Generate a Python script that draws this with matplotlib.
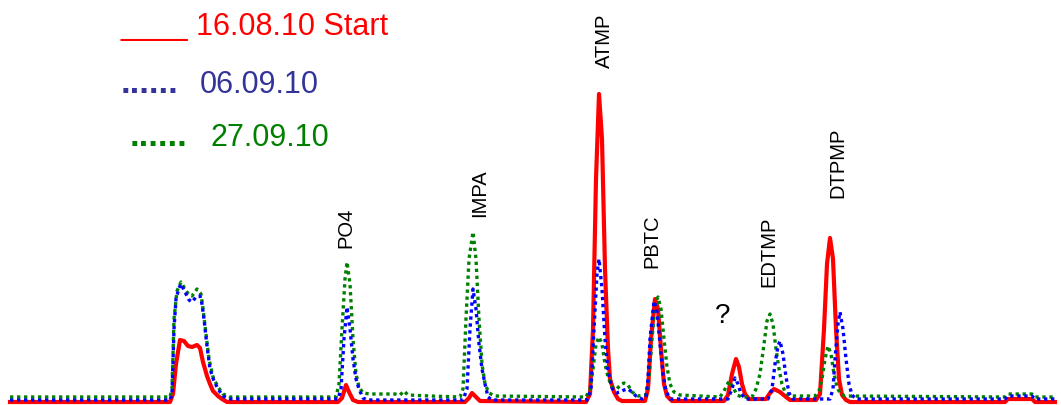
#!/usr/bin/python
# -*- coding: utf-8 -*-

'''
Chromatogram of phosphonates, three samples overlaid (16.08 / 06.09 / 27.09)
'''

import matplotlib
matplotlib.use('Agg')
import matplotlib.pyplot as plt

# Retention axis (arbitrary units) and detector signal (arbitrary units)
redTime = [10, 170, 173, 176, 180, 184, 188, 192, 197, 200, 203, 207, 210, 213, 218, 222, 227,
           338, 342, 346, 349, 353, 358, 465, 469, 472, 476, 480,
           586, 590, 593, 596, 599, 602, 605, 608, 610, 614, 618, 622,
           645, 648, 651, 655, 658, 661, 664, 667, 672,
           724, 728, 732, 736, 739, 742, 745, 749, 766, 770, 774, 780, 786, 790,
           816, 820, 824, 827, 830, 833, 836, 839, 842, 846, 850,
           1005, 1008, 1032, 1035, 1055]
redSignal = [3, 3, 11, 41, 65, 64, 59, 58, 60, 57, 43, 29, 21, 14, 9, 6, 3,
             3, 7, 20, 13, 5, 3, 3, 7, 12, 8, 4,
             3, 11, 76, 226, 311, 266, 136, 56, 26, 13, 6, 4,
             4, 16, 66, 106, 96, 56, 21, 9, 4,
             4, 10, 31, 46, 38, 21, 11, 6, 6, 12, 16, 13, 8, 5,
             5, 11, 76, 141, 167, 146, 76, 26, 10, 5, 3,
             3, 6, 6, 3, 3]

blueTime = [10, 170, 172, 174, 176, 179, 181, 185, 189, 192, 196, 200, 202, 204, 207, 210, 214, 218, 223, 230,
            338, 341, 344, 347, 350, 353, 356, 359, 363, 367,
            463, 467, 470, 473, 476, 479, 482, 485, 488, 492,
            587, 591, 594, 597, 599, 602, 605, 608, 612, 616, 620, 624, 628, 632, 636, 642,
            646, 648, 650, 654, 657, 660, 663, 666, 670,
            728, 732, 735, 738, 741, 746, 768, 772, 775, 778, 780, 783, 786, 789, 793,
            830, 833, 835, 838, 840, 843, 846, 849, 852, 856,
            1005, 1008, 1032, 1035, 1055]
blueSignal = [5, 5, 11, 76, 106, 117, 121, 113, 105, 103, 108, 109, 101, 86, 59, 36, 24, 16, 9, 6,
              6, 16, 66, 98, 76, 46, 26, 16, 7, 5,
              5, 16, 76, 116, 96, 61, 36, 21, 8, 5,
              5, 16, 76, 131, 146, 116, 66, 34, 17, 12, 13, 15, 16, 13, 9, 6,
              8, 26, 66, 104, 94, 61, 31, 14, 6,
              6, 16, 27, 21, 11, 6, 6, 16, 41, 59, 64, 51, 28, 12, 6,
              6, 16, 46, 81, 93, 76, 46, 21, 10, 6,
              6, 9, 9, 6, 6]

greenTime = [10, 170, 172, 174, 177, 181, 185, 189, 192, 197, 201, 203, 206, 209, 213, 218, 223, 230,
             336, 339, 342, 345, 347, 350, 353, 356, 359, 363, 370, 395, 400, 404, 408, 430,
             460, 463, 466, 469, 473, 476, 479, 482, 485, 489, 495,
             586, 590, 593, 596, 599, 602, 605, 608, 612, 617, 620, 624, 628, 632, 638,
             646, 649, 652, 655, 658, 661, 664, 667, 670, 674, 680, 700,
             720, 724, 729, 733, 737, 742, 752, 756, 760, 764, 767, 770, 773, 776, 779, 782, 785, 790,
             815, 819, 822, 825, 828, 831, 834, 837, 840, 845,
             1005, 1008, 1032, 1035, 1055]
greenSignal = [8, 8, 16, 86, 114, 123, 116, 110, 109, 116, 111, 96, 71, 46, 28, 18, 11, 8,
               8, 21, 76, 126, 143, 121, 66, 31, 18, 12, 11, 11, 10, 14, 10, 9,
               8, 16, 86, 146, 173, 146, 86, 41, 21, 12, 9,
               8, 16, 36, 61, 68, 61, 41, 28, 18, 16, 20, 22, 20, 13, 9,
               10, 26, 66, 101, 108, 96, 66, 38, 21, 13, 10, 9,
               8, 14, 24, 18, 10, 8, 8, 16, 31, 61, 84, 91, 81, 56, 36, 21, 13, 9,
               9, 14, 26, 46, 59, 51, 31, 18, 12, 9,
               8, 11, 11, 8, 8]

seriesNames = ['16.08.10 Start', '06.09.10', '27.09.10']

# Peak labels: (name, retention position, signal level of the label foot)
peakNames = ['PO4', 'IMPA', 'ATMP', 'PBTC', 'EDTMP', 'DTPMP']
peakPos = [346, 480, 604, 652, 769, 838]
peakLabelBase = [158, 189, 338, 138, 119, 208]

redColor = '#ff0000'
blueColor = '#0000ff'
greenColor = '#008000'
blueText = '#333399'


def main():
    plt.rcParams['font.family'] = ['Liberation Sans', 'DejaVu Sans']

    fig = plt.figure(figsize=(10.61, 4.06), dpi=100)
    ax = fig.add_axes([0, 0, 1, 1])
    ax.set_xlim(0, 1061)
    ax.set_ylim(0, 406)
    ax.axis('off')

    # traces
    ax.plot(redTime, redSignal, color=redColor, lw=3.0, solid_joinstyle='round', zorder=2)
    ax.plot(greenTime, greenSignal, color=greenColor, lw=2.4, linestyle=(0, (1, 1.1)), zorder=3)
    ax.plot(blueTime, blueSignal, color=blueColor, lw=2.4, linestyle=(0, (1, 1.1)), zorder=4)

    # hand-made legend, as in the original
    ax.text(120, 371, '____ ' + seriesNames[0], color=redColor, fontsize=22, va='baseline')
    ax.text(121, 313, '......', color=blueText, fontsize=25, fontweight='bold', va='baseline')
    ax.text(200, 313, seriesNames[1], color=blueText, fontsize=22, va='baseline')
    ax.text(130, 260, '......', color=greenColor, fontsize=25, fontweight='bold', va='baseline')
    ax.text(210, 260, seriesNames[2], color=greenColor, fontsize=22, va='baseline')

    # peak names
    for name, pos, base in zip(peakNames, peakPos, peakLabelBase):
        ax.text(pos, base, name, rotation=90, ha='center', va='bottom', fontsize=14.5, color='black')
    ax.text(723, 90, '?', ha='center', va='center', fontsize=20, color='black')

    fig.savefig('out.png', dpi=100)


if __name__ == '__main__':
    main()
